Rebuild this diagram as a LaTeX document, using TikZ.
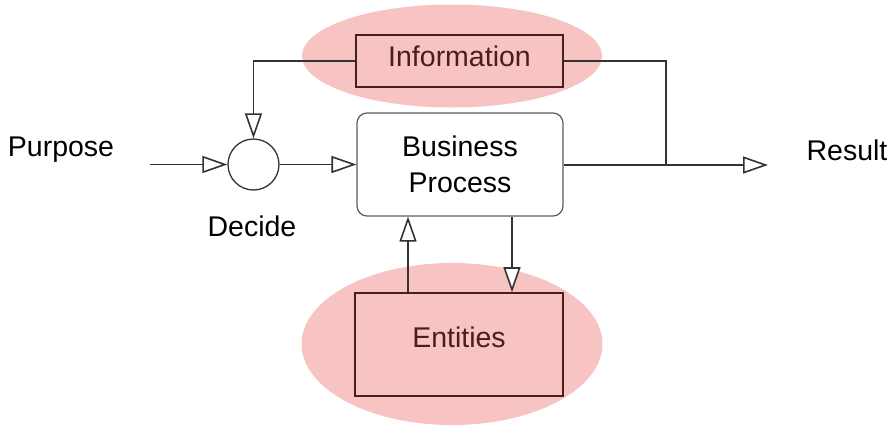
\documentclass[tikz,border=0pt]{standalone}
\usepackage{fontspec}
\setmainfont{Liberation Sans}
\usetikzlibrary{arrows.meta,shapes.geometric}
\definecolor{blobpink}{HTML}{F8C3C3}
\definecolor{darkred}{HTML}{4A1E1E}
\definecolor{linegray}{HTML}{333333}
\tikzset{
  blob/.style={ellipse,fill=blobpink,draw=none},
  redbox/.style={draw=darkred,line width=1.6pt,text=darkred,inner sep=0pt},
  procbox/.style={draw=linegray!80,line width=1.2pt,rounded corners=10pt,inner sep=0pt,align=center},
  conn/.style={draw=linegray,line width=1.7pt},
  tip/.style={-{Triangle[open,length=25pt,width=17pt,line width=1.6pt,fill=white]}},
  lbl/.style={inner sep=0pt,text=black}
}
\begin{document}
\begin{tikzpicture}[x=1pt,y=-1pt,font=\fontsize{28.5}{34}\selectfont]
\useasboundingbox (0,0) rectangle (895,426);
% background blobs
\node[blob,minimum width=300pt,minimum height=103pt] (infoblob) at (452,56) {};
\node[blob,minimum width=301pt,minimum height=162pt] (entblob) at (452,344) {};
% boxes
\node[redbox,minimum width=207pt,minimum height=52pt,text height=20pt,text depth=10pt] (info) at (459.5,61) {Information};
\node[procbox,minimum width=206pt,minimum height=103pt] (bp) at (460,164.5) {Business\\[2pt]Process};
\node[redbox,minimum width=208pt,minimum height=103pt,text height=20pt,text depth=15pt] (ent) at (459,344.5) {Entities};
\node[draw=linegray,line width=1.3pt,circle,minimum size=51pt,inner sep=0pt] (dec) at (253.5,164.5) {};
% labels
\node[lbl] (purpose) at (61,150) {Purpose};
\node[lbl] (decide) at (252,226) {Decide};
\node[lbl] (result) at (847,150) {Result};
% free ends
\coordinate (pin) at (150,164.5);
\coordinate (junc) at (666,165);
\coordinate (rout) at (768,165);
\coordinate (fb) at (253.5,61);
\coordinate (ir) at (666,61);
% connectors
\draw[conn,tip] (pin) -- (dec.west);
\draw[conn,tip] (dec.east) -- (bp.west |- dec.east);
\draw[conn,tip] (info.west) -- (fb) -- (dec.north);
\draw[conn] (info.east) -- (ir) -- (junc);
\draw[conn,tip] (bp.east |- junc) -- (rout);
\draw[conn,tip] (ent.north -| 408,0) -- (bp.south -| 408,0);
\draw[conn,tip] (bp.south -| 512,0) -- (ent.north -| 512,0);
\end{tikzpicture}
\end{document}
